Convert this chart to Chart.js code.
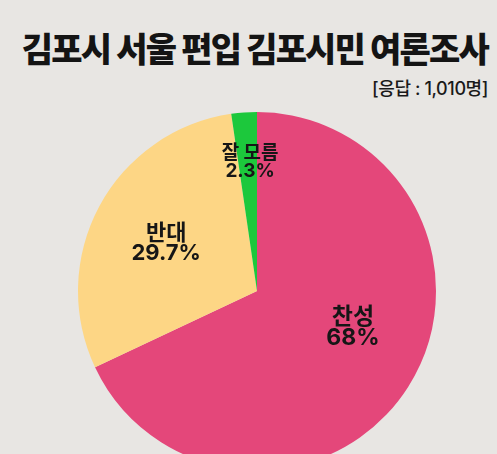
<!DOCTYPE html>
<html>
<head>
<meta charset="utf-8">
<script src="https://cdn.jsdelivr.net/npm/chart.js@4"></script>
<style>
html,body{margin:0;padding:0;width:497px;height:454px;overflow:hidden;background:#e8e6e3;}
body{position:relative;font-family:Inter,"Noto Sans CJK KR","Noto Sans",sans-serif;color:#141414;}
#title{position:absolute;right:9px;top:23px;font-family:"Noto Sans CJK KR",sans-serif;font-size:34px;font-weight:900;letter-spacing:-1.8px;white-space:nowrap;line-height:50px;}
#sub{position:absolute;right:9px;top:76px;font-size:18px;font-weight:500;letter-spacing:-0.4px;white-space:nowrap;line-height:26px;color:#1a1a1a;}
#wrap{position:absolute;left:78px;top:112px;width:358px;height:358px;}
</style>
</head>
<body>
<div id="title">김포시 서울 편입 김포시민 여론조사</div>
<div id="sub">[응답 : 1,010명]</div>
<div id="wrap"><canvas id="c"></canvas></div>
<script>
const categories = ["찬성", "반대", "잘 모름"];
const values = [68, 29.7, 2.3];
const valueLabels = ["68%", "29.7%", "2.3%"];
const colors = ["#e4477a", "#fdd685", "#1cc83c"];
// label placement: fraction along the arc angle, fraction of radius, font size
const labelAngleFrac = [0.452, 0.496, 0.63];
const labelRadiusFrac = [0.573, 0.574, 0.72];
const labelFontSize = [23, 22, 19];

const labelPlugin = {
  id: 'sliceLabels',
  afterDatasetsDraw(chart) {
    const ctx = chart.ctx;
    const meta = chart.getDatasetMeta(0);
    meta.data.forEach((arc, i) => {
      const p = arc.getProps(['x','y','startAngle','endAngle','outerRadius'], true);
      const a = p.startAngle + labelAngleFrac[i] * (p.endAngle - p.startAngle);
      const r = labelRadiusFrac[i] * p.outerRadius;
      const x = p.x + Math.cos(a) * r;
      const y = p.y + Math.sin(a) * r;
      const fs = labelFontSize[i];
      const gap = fs * 0.46;
      ctx.save();
      ctx.fillStyle = '#161616';
      ctx.textAlign = 'center';
      ctx.textBaseline = 'middle';
      ctx.font = '700 ' + fs + 'px Inter, "Noto Sans CJK KR", "Noto Sans", sans-serif';
      ctx.fillText(categories[i], x, y - gap);
      ctx.fillText(valueLabels[i], x, y + gap);
      ctx.restore();
    });
  }
};

new Chart(document.getElementById('c'), {
  type: 'pie',
  data: {
    labels: categories,
    datasets: [{
      data: values,
      backgroundColor: colors,
      borderWidth: 0,
      hoverOffset: 0
    }]
  },
  options: {
    responsive: true,
    maintainAspectRatio: false,
    animation: false,
    layout: { padding: 0 },
    plugins: {
      legend: { display: false },
      tooltip: { enabled: false }
    },
    events: []
  },
  plugins: [labelPlugin]
});
</script>
</body>
</html>
